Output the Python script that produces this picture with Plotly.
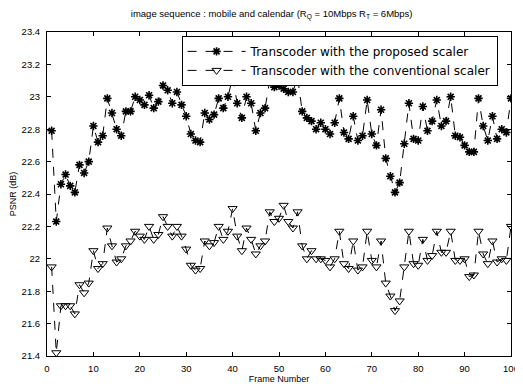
import plotly.graph_objects as go

frames = list(range(1, 101))

psnr_proposed = [
    22.79, 22.23, 22.46, 22.52, 22.45, 22.41, 22.58, 22.53, 22.60, 22.82,
    22.72, 22.76, 22.99, 22.90, 22.80, 22.76, 22.91, 22.91, 23.00, 22.98,
    22.95, 23.01, 22.93, 22.97, 23.07, 23.04, 22.96, 23.03, 22.95, 22.88,
    22.77, 22.73, 22.72, 22.90, 22.86, 22.89, 22.99, 22.93, 23.00, 23.12,
    22.96, 22.87, 23.00, 22.96, 22.79, 22.90, 22.93, 23.10, 23.06, 23.07,
    23.05, 23.03, 23.03, 23.12, 22.91, 22.87, 22.85, 22.80, 22.84, 22.80,
    22.77, 22.84, 22.99, 22.78, 22.74, 22.88, 22.73, 22.76, 22.98, 22.77,
    22.70, 22.92, 22.62, 22.51, 22.41, 22.47, 22.71, 22.96, 22.74, 22.73,
    22.94, 22.79, 22.85, 22.98, 22.82, 22.85, 23.00, 22.76, 22.75, 22.70,
    22.66, 22.66, 22.99, 22.82, 22.73, 22.88, 22.74, 22.80, 22.78, 22.99,
]

psnr_conventional = [
    21.95, 21.42, 21.71, 21.71, 21.71, 21.66, 21.84, 21.79, 21.85, 22.05,
    21.94, 21.97, 22.19, 22.08, 21.98, 22.00, 22.08, 22.11, 22.17, 22.14,
    22.12, 22.20, 22.12, 22.15, 22.26, 22.20, 22.14, 22.20, 22.14, 22.06,
    21.96, 21.93, 21.94, 22.11, 22.08, 22.10, 22.20, 22.12, 22.17, 22.31,
    22.14, 22.05, 22.19, 22.12, 22.03, 22.08, 22.11, 22.29, 22.23, 22.25,
    22.33, 22.23, 22.19, 22.29, 22.08, 22.00, 22.05, 22.00, 22.00, 21.99,
    21.95, 22.00, 22.17, 21.97, 21.94, 22.11, 21.93, 21.95, 22.17, 21.99,
    21.95, 22.11, 21.85, 21.77, 21.68, 21.74, 21.95, 22.17, 21.97, 21.96,
    22.12, 21.99, 22.02, 22.17, 22.04, 22.04, 22.17, 21.99, 21.99, 22.00,
    21.89, 21.90, 22.17, 22.03, 21.97, 22.11, 21.98, 22.00, 21.99, 22.20,
]

y_tickvals = [21.4, 21.6, 21.8, 22.0, 22.2, 22.4, 22.6, 22.8, 23.0, 23.2, 23.4]
y_ticktext = ["21.4", "21.6", "21.8", "22", "22.2", "22.4", "22.6", "22.8", "23", "23.2", "23.4"]
x_tickvals = [0, 10, 20, 30, 40, 50, 60, 70, 80, 90, 100]

font_family = "Liberation Sans, Arial, sans-serif"
legend_family = "DejaVu Sans, Liberation Sans, sans-serif"

fig = go.Figure()
fig.add_trace(go.Scatter(
    x=frames, y=psnr_proposed, mode="lines+markers",
    name="Transcoder with the proposed scaler",
    line=dict(color="black", width=1, dash="dash"),
    marker=dict(symbol="asterisk-open", size=7, color="black",
                line=dict(color="black", width=1.6)),
))
fig.add_trace(go.Scatter(
    x=frames, y=psnr_conventional, mode="lines+markers",
    name="Transcoder with the conventional scaler",
    line=dict(color="black", width=1, dash="dash"),
    marker=dict(symbol="triangle-down-open", size=8, color="black",
                line=dict(color="black", width=1)),
))

axis_common = dict(
    showline=True, linecolor="black", linewidth=1, mirror="ticks",
    ticks="inside", ticklen=4, tickcolor="black", showgrid=False,
    zeroline=False, ticklabeloverflow="allow",
    tickfont=dict(family=font_family, size=9.5, color="black"),
)

# the page body adds an 8px margin, so the figure is sized to fit the 523x386 window
fig.update_layout(
    width=515, height=378,
    margin=dict(l=39, r=4, t=24, b=28),
    paper_bgcolor="white", plot_bgcolor="white",
    font=dict(family=font_family, color="black"),
    title=dict(
        text="image sequence : mobile and calendar (R<sub>Q</sub> = 10Mbps R<sub>T</sub> = 6Mbps)",
        x=0.512, xanchor="center", y=0.985, yanchor="middle",
        font=dict(family=font_family, size=9.5, color="black"),
    ),
    xaxis=dict(range=[0, 100], tickvals=x_tickvals, ticklabelstandoff=4,
               title=dict(text="Frame Number", standoff=1,
                          font=dict(family=font_family, size=9)),
               **axis_common),
    yaxis=dict(range=[21.4, 23.4], tickvals=y_tickvals, ticktext=y_ticktext,
               ticklabelstandoff=4,
               title=dict(text="PSNR (dB)", standoff=3,
                          font=dict(family=font_family, size=9)),
               **axis_common),
    showlegend=True,
    legend=dict(
        x=0.29, y=0.988, xanchor="left", yanchor="top",
        bgcolor="white", bordercolor="black", borderwidth=1,
        font=dict(family=legend_family, size=12, color="black"),
        tracegroupgap=0, itemwidth=58,
    ),
)

fig.write_html("out.html")
